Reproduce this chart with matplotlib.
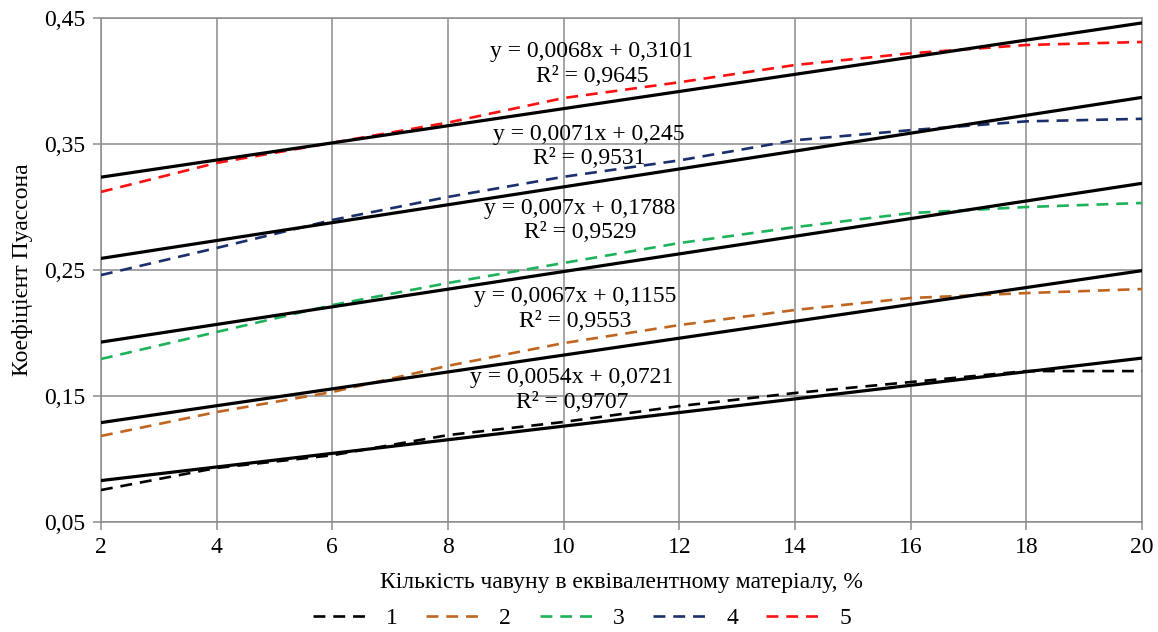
import matplotlib
matplotlib.use("Agg")
import matplotlib.pyplot as plt
import numpy as np
from matplotlib.ticker import FuncFormatter, FixedLocator, MultipleLocator

plt.rcParams['font.family'] = ['Liberation Serif', 'DejaVu Serif']

# x: кількість чавуну, %
x = [2, 4, 6, 8, 10, 12, 14, 16, 18, 20]

# коефіцієнт Пуассона
s1 = [0.0754, 0.0929, 0.1030, 0.1190, 0.1294, 0.1420, 0.1524, 0.1611, 0.1698, 0.1698]
s2 = [0.1183, 0.1373, 0.1532, 0.1740, 0.1920, 0.2063, 0.2183, 0.2278, 0.2317, 0.2349]
s3 = [0.1794, 0.2008, 0.2222, 0.2397, 0.2556, 0.2714, 0.2840, 0.2952, 0.3000, 0.3032]
s4 = [0.2460, 0.2675, 0.2897, 0.3080, 0.3240, 0.3370, 0.3530, 0.3610, 0.3680, 0.3700]
s5 = [0.3120, 0.3350, 0.3510, 0.3670, 0.3865, 0.3990, 0.4127, 0.4220, 0.4286, 0.4310]

series = [s1, s2, s3, s4, s5]
names = ['1', '2', '3', '4', '5']
colors = ['#000000', '#C0651F', '#1DB35A', '#1A2F6B', '#FF1010']

y_ticks = [0.05, 0.15, 0.25, 0.35, 0.45]

# лінійні тренди (Excel)
slopes = [0.0054, 0.0067, 0.007, 0.0071, 0.0068]
intercepts = [0.0721, 0.1155, 0.1788, 0.245, 0.3101]
r2 = ['0,9707', '0,9553', '0,9529', '0,9531', '0,9645']
eq_text = ['y = 0,0054x + 0,0721', 'y = 0,0067x + 0,1155', 'y = 0,007x + 0,1788',
           'y = 0,0071x + 0,245', 'y = 0,0068x + 0,3101']
eq_pos = [(10.14, 0.1548), (10.2, 0.219), (10.28, 0.289), (10.44, 0.348), (10.49, 0.4135)]

fig, ax = plt.subplots(figsize=(11.58, 6.32), dpi=100)
plt.subplots_adjust(left=0.0872, right=0.9862, top=0.9715, bottom=0.174)

grid_c = '#8c8c8c'
ax.set_axisbelow(True)
ax.grid(True, color=grid_c, linewidth=1.1)

xs = np.array(x, dtype=float)
for i in range(5):
    ax.plot(xs, series[i], color=colors[i], linewidth=1.9, dashes=(4.5, 3),
            label=names[i], zorder=3)
    ax.plot(xs, slopes[i] * xs + intercepts[i], color='black', linewidth=2.3, zorder=4)
    ax.text(eq_pos[i][0], eq_pos[i][1], eq_text[i] + '\nR² = ' + r2[i],
            ha='center', va='center', multialignment='center', fontsize=17, zorder=5)

ax.set_xlim(2, 20)
ax.set_ylim(0.05, 0.45)
ax.xaxis.set_major_locator(MultipleLocator(2))
ax.yaxis.set_major_locator(FixedLocator(y_ticks))
ax.yaxis.set_major_formatter(FuncFormatter(lambda v, p: f"{v:.2f}".replace('.', ',')))

for sp in ax.spines.values():
    sp.set_color(grid_c)
    sp.set_linewidth(1.1)

ax.tick_params(axis='both', labelsize=17, color=grid_c, width=1.1, length=6, pad=5)

ax.set_xlabel('Кількість чавуну в еквівалентному матеріалу, %', fontsize=17, labelpad=10)
ax.set_ylabel('Коефіцієнт Пуассона', fontsize=17, labelpad=8)

handles, labels = ax.get_legend_handles_labels()
fig.legend(handles, labels, loc='center', bbox_to_anchor=(582 / 1158, 1 - 618 / 632),
           ncol=5, frameon=False, fontsize=17, handlelength=2.5, handletextpad=0.6,
           columnspacing=1.2)

fig.savefig('out.png', dpi=100)
